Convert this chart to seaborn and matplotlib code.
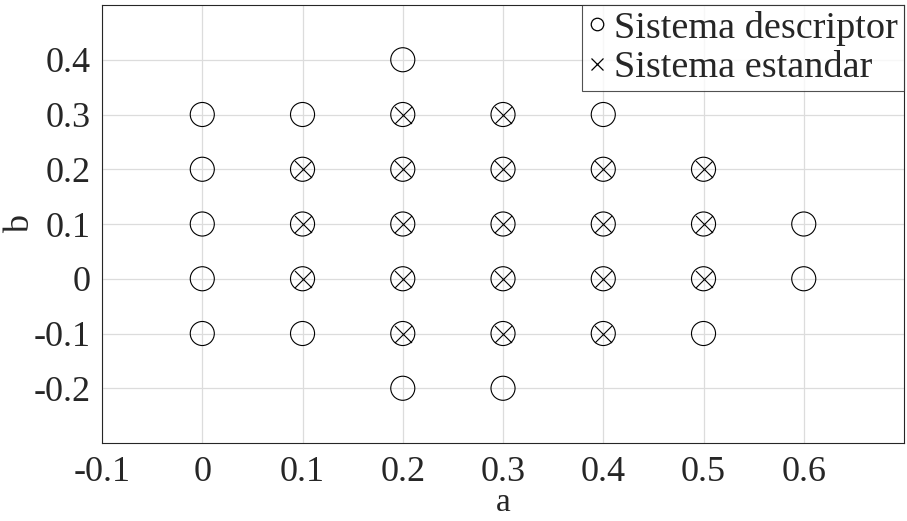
import numpy as np
import pandas as pd
import matplotlib
matplotlib.use("Agg")
import matplotlib.pyplot as plt
import seaborn as sns

# puntos donde el sistema descriptor es estable
a_desc = [0, 0, 0, 0, 0,
          0.1, 0.1, 0.1, 0.1, 0.1,
          0.2, 0.2, 0.2, 0.2, 0.2, 0.2, 0.2,
          0.3, 0.3, 0.3, 0.3, 0.3, 0.3,
          0.4, 0.4, 0.4, 0.4, 0.4,
          0.5, 0.5, 0.5, 0.5,
          0.6, 0.6]
b_desc = [-0.1, 0, 0.1, 0.2, 0.3,
          -0.1, 0, 0.1, 0.2, 0.3,
          -0.2, -0.1, 0, 0.1, 0.2, 0.3, 0.4,
          -0.2, -0.1, 0, 0.1, 0.2, 0.3,
          -0.1, 0, 0.1, 0.2, 0.3,
          -0.1, 0, 0.1, 0.2,
          0, 0.1]

# puntos donde el sistema estandar es estable
a_std = [0.1, 0.1, 0.1,
         0.2, 0.2, 0.2, 0.2, 0.2,
         0.3, 0.3, 0.3, 0.3, 0.3,
         0.4, 0.4, 0.4, 0.4,
         0.5, 0.5, 0.5]
b_std = [0, 0.1, 0.2,
         -0.1, 0, 0.1, 0.2, 0.3,
         -0.1, 0, 0.1, 0.2, 0.3,
         -0.1, 0, 0.1, 0.2,
         0, 0.1, 0.2]

xticks = [-0.1, 0, 0.1, 0.2, 0.3, 0.4, 0.5, 0.6]
yticks = [-0.2, -0.1, 0, 0.1, 0.2, 0.3, 0.4]

df_desc = pd.DataFrame({'a': a_desc, 'b': b_desc})
df_std = pd.DataFrame({'a': a_std, 'b': b_std})

sns.set_style("white")
plt.rcParams['font.family'] = ['Liberation Serif', 'DejaVu Serif']

fig = plt.figure(figsize=(9.07, 5.21), dpi=100)
ax = fig.add_axes([0.1125, 0.1497, 0.8842, 0.8407])

sns.scatterplot(data=df_desc, x='a', y='b', marker='o', s=300,
                facecolor='none', edgecolor='black', linewidth=0.8,
                ax=ax, zorder=3)
sns.scatterplot(data=df_std, x='a', y='b', marker='x', s=150,
                color='black', linewidth=0.8, ax=ax, zorder=3)

ax.set_xlim(-0.1, 0.7)
ax.set_ylim(-0.3, 0.5)
ax.set_xticks(xticks)
ax.set_yticks(yticks)
ax.set_xticklabels(['-0.1', '0', '0.1', '0.2', '0.3', '0.4', '0.5', '0.6'])
ax.set_yticklabels(['-0.2', '-0.1', '0', '0.1', '0.2', '0.3', '0.4'])
ax.tick_params(direction='in', length=7, width=0.8, labelsize=26,
               colors='#262626')
ax.tick_params(axis='x', pad=9)
ax.tick_params(axis='y', pad=8)
ax.grid(True, color='#dcdcdc', linewidth=0.9)
ax.set_axisbelow(True)
for sp in ax.spines.values():
    sp.set_color('#262626')
    sp.set_linewidth(0.8)

ax.set_xlabel('a', fontsize=24, color='#262626', va='bottom')
ax.xaxis.set_label_coords(0.5, -0.172)
ax.set_ylabel('b', fontsize=26, color='#262626', labelpad=-2)

# leyenda
h1 = plt.Line2D([], [], marker='o', ls='none', mfc='none', mec='black',
                markersize=9, mew=0.9)
h2 = plt.Line2D([], [], marker='x', ls='none', color='black',
                markersize=9, mew=0.9)
leg = ax.legend([h1, h2], ['Sistema descriptor', 'Sistema estandar'],
                loc='upper right', fontsize=27.5, frameon=True, fancybox=False,
                borderaxespad=0, handlelength=0.5, handletextpad=0.2,
                borderpad=0.15, labelspacing=0.12)
leg.get_frame().set_edgecolor('#262626')
leg.get_frame().set_linewidth(0.8)

fig.savefig('out.png', dpi=100)
